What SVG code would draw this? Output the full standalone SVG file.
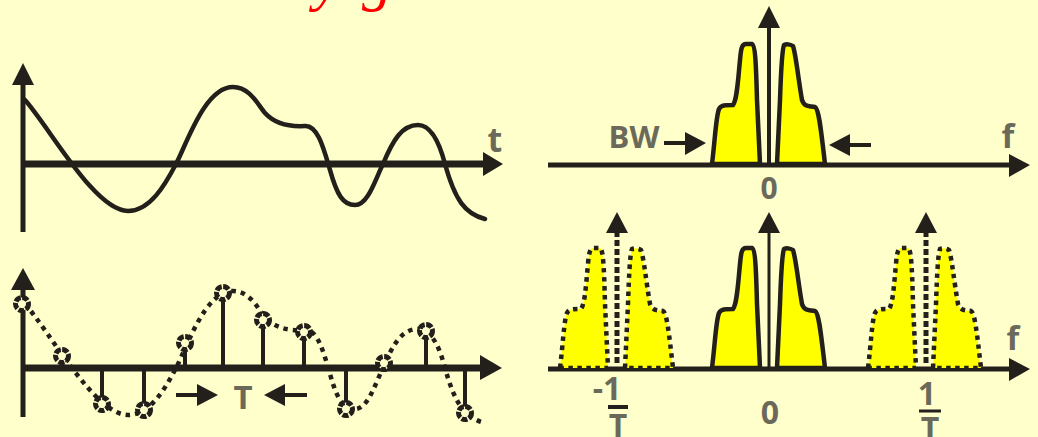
<svg xmlns="http://www.w3.org/2000/svg" width="1038" height="437" viewBox="0 0 1038 437">
<style>
.bg{fill:#ffffcc}
.ax{stroke:#231f1b;fill:none;stroke-linecap:butt}
.head{fill:#231f1b}
.curve{fill:none;stroke:#231f1b;stroke-width:4.5;stroke-linecap:round}
.dotcurve{fill:none;stroke:#231f1b;stroke-width:4.5;stroke-dasharray:4.5 5}
.lobe{fill:#ffff00;stroke:#231f1b;stroke-width:4.5;stroke-linejoin:round}
.dlobe{fill:#ffff00;stroke:#231f1b;stroke-width:4.5;stroke-dasharray:4.5 4.5}
.stem{stroke:#231f1b;stroke-width:4}
.samp{fill:#ffffcc;stroke:#231f1b;stroke-width:5;stroke-dasharray:6 1.5}
.lbl{font-family:"Open Sans","DejaVu Sans",sans-serif;font-weight:700;fill:#6b6a5a;text-anchor:middle}
.dash{stroke:#231f1b;stroke-width:5;stroke-dasharray:6 3;fill:none}
</style>
<defs>
<path id="sig" d="M25,100 C50,128 95,211 128,211 C150,211 165,185 176,164 S205,87 233,87 C250,87 258,105 265,113 C275,124 288,127 305,126 C318,125 324,150 330,170 C337,195 343,205 355,205 C368,205 375,180 383,164 C393,140 402,125 418,125 C432,125 440,145 445,164 C455,200 465,214 485,219"/>
<path id="lobeL" d="M712,164 C715,140 716,116 719,109 C721,105 725,105 733,105 C737,100 738,80 740,60 C741,48 742,44 746,44 L752,44 C755,45 756,60 757,100 L760,164 Z"/>
<path id="lobeR" d="M777,164 L780,100 C781,70 782,50 784,45 C786,44 790,44 793,46 C796,55 798,77 802,100 C804,106 807,106 815,107 C819,109 821,130 825,164 Z"/>
</defs>
<rect class="bg" x="0" y="0" width="1038" height="437"/>
<text x="0" y="-1" font-family="Liberation Serif" font-style="italic" font-size="60" fill="#ff0000"><tspan x="314">y</tspan><tspan x="362">g</tspan></text>

<g id="time-continuous">
<line class="ax" x1="23" y1="82" x2="23" y2="232" stroke-width="5"/>
<polygon class="head" points="23,63 12,85 34,85"/>
<line class="ax" x1="23" y1="164" x2="485" y2="164" stroke-width="7"/>
<polygon class="head" points="503,164 483,152 483,176"/>
<use href="#sig" class="curve"/>
<text class="lbl" x="495" y="152" font-size="34">t</text>
</g>

<g id="time-sampled">
<line class="ax" x1="23" y1="286" x2="23" y2="417" stroke-width="5"/>
<polygon class="head" points="23,268 11,290 35,290"/>
<line class="ax" x1="23" y1="368" x2="483" y2="368" stroke-width="7"/>
<polygon class="head" points="502,368 480,355 480,380"/>
<use href="#sig" class="dotcurve" transform="translate(0,204)"/>
<g id="stems">
<line class="stem" x1="62" y1="368" x2="62" y2="356"/>
<line class="stem" x1="102" y1="368" x2="102" y2="404"/>
<line class="stem" x1="144" y1="368" x2="144" y2="410"/>
<line class="stem" x1="185" y1="368" x2="185" y2="343"/>
<line class="stem" x1="223" y1="368" x2="223" y2="293"/>
<line class="stem" x1="263" y1="368" x2="263" y2="320"/>
<line class="stem" x1="304" y1="368" x2="304" y2="332"/>
<line class="stem" x1="346" y1="368" x2="346" y2="409"/>
<line class="stem" x1="384" y1="368" x2="384" y2="363"/>
<line class="stem" x1="426" y1="368" x2="426" y2="331"/>
<line class="stem" x1="465" y1="368" x2="465" y2="413"/>
</g>
<g id="samples">
<circle class="samp" cx="22" cy="304" r="6.5"/>
<circle class="samp" cx="62" cy="356" r="6.5"/>
<circle class="samp" cx="102" cy="404" r="6.5"/>
<circle class="samp" cx="144" cy="410" r="6.5"/>
<circle class="samp" cx="185" cy="343" r="6.5"/>
<circle class="samp" cx="223" cy="293" r="6.5"/>
<circle class="samp" cx="263" cy="320" r="6.5"/>
<circle class="samp" cx="304" cy="332" r="6.5"/>
<circle class="samp" cx="346" cy="409" r="6.5"/>
<circle class="samp" cx="384" cy="363" r="6.5"/>
<circle class="samp" cx="426" cy="331" r="6.5"/>
<circle class="samp" cx="465" cy="413" r="6.5"/>
</g>
<line class="ax" x1="176" y1="395" x2="200" y2="395" stroke-width="4"/>
<polygon class="head" points="218,395 197,384 197,406"/>
<text class="lbl" x="243" y="409" font-size="33">T</text>
<line class="ax" x1="282" y1="395" x2="307" y2="395" stroke-width="4"/>
<polygon class="head" points="264,395 285,384 285,406"/>
</g>

<g id="spectrum">
<line class="ax" x1="548" y1="165" x2="1012" y2="165" stroke-width="5"/>
<polygon class="head" points="1030,165 1009,154 1009,177"/>
<use href="#lobeL" class="lobe"/>
<use href="#lobeR" class="lobe"/>
<line class="ax" x1="769" y1="25" x2="769" y2="165" stroke-width="4"/>
<polygon class="head" points="769,6 758,28 780,28"/>
<text class="lbl" x="634" y="148" font-size="31">BW</text>
<line class="ax" x1="664" y1="143" x2="688" y2="143" stroke-width="4"/>
<polygon class="head" points="706,143 685,132 685,155"/>
<line class="ax" x1="847" y1="145" x2="871" y2="145" stroke-width="4"/>
<polygon class="head" points="829,145 850,134 850,156"/>
<text class="lbl" x="769" y="199" font-size="30">0</text>
<text class="lbl" x="1008" y="148" font-size="33">f</text>
</g>

<g id="spectrum-sampled">
<line class="ax" x1="548" y1="369" x2="1012" y2="369" stroke-width="5"/>
<polygon class="head" points="1030,369 1009,358 1009,381"/>
<g transform="translate(0,204)">
<use href="#lobeL" class="lobe"/>
<use href="#lobeR" class="lobe"/>
</g>
<line class="ax" x1="769" y1="230" x2="769" y2="369" stroke-width="3"/>
<polygon class="head" points="769,212 758,233 780,233"/>
<g transform="translate(-152,204)">
<use href="#lobeL" class="dlobe"/>
<use href="#lobeR" class="dlobe"/>
</g>
<line class="dash" x1="617" y1="231" x2="617" y2="366"/>
<polygon class="head" points="617,212 606,233 628,233"/>
<g transform="translate(156,204)">
<use href="#lobeL" class="dlobe"/>
<use href="#lobeR" class="dlobe"/>
</g>
<line class="dash" x1="926" y1="231" x2="926" y2="366"/>
<polygon class="head" points="926,212 915,233 937,233"/>
<text class="lbl" x="607" y="400" font-size="32">-1</text>
<line class="ax" x1="608" y1="407" x2="628" y2="407" stroke-width="4"/>
<text class="lbl" x="618" y="437" font-size="32">T</text>
<text class="lbl" x="927" y="405" font-size="32">1</text>
<line class="ax" x1="919" y1="411" x2="941" y2="411" stroke-width="3"/>
<text class="lbl" x="930" y="440" font-size="32">T</text>
<text class="lbl" x="770" y="424" font-size="32">0</text>
<text class="lbl" x="1013" y="350" font-size="33">f</text>
</g>
</svg>
